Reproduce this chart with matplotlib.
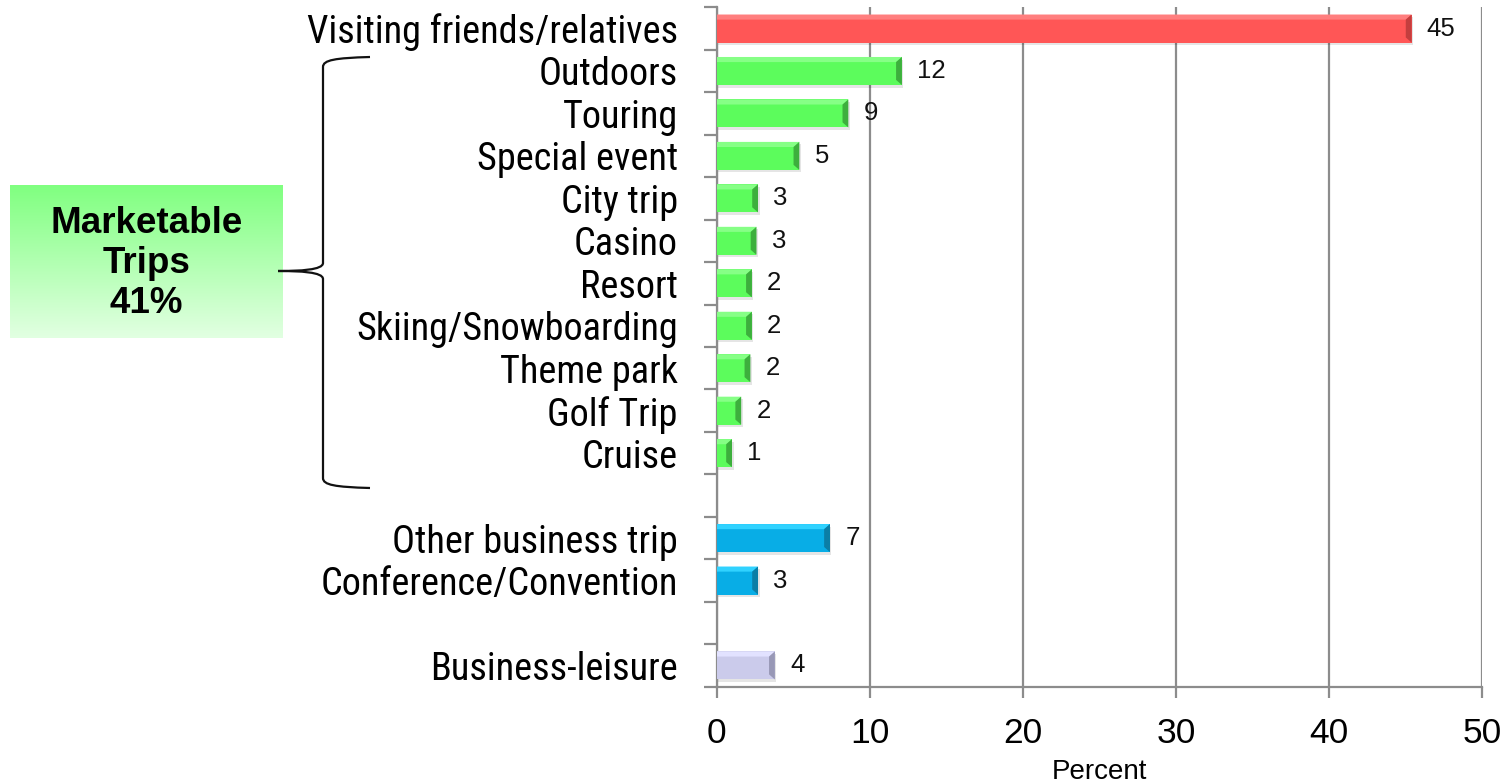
import numpy as np
import matplotlib.pyplot as plt
from matplotlib.patches import Polygon, Rectangle, PathPatch
from matplotlib.path import Path
from matplotlib import font_manager

# trip purposes, share of trips (percent)
categories = ["Visiting friends/relatives", "Outdoors", "Touring", "Special event",
              "City trip", "Casino", "Resort", "Skiing/Snowboarding", "Theme park",
              "Golf Trip", "Cruise", "Other business trip", "Conference/Convention",
              "Business-leisure"]
values = [45.4, 12.1, 8.6, 5.4, 2.7, 2.6, 2.3, 2.3, 2.2, 1.6, 1.0, 7.4, 2.7, 3.8]
groups = ["vfr"] + ["marketable"] * 10 + ["business"] * 2 + ["bleisure"]
x_ticks = [0, 10, 20, 30, 40, 50]
marketable_label = "Marketable\nTrips\n41%"

# row slots, leaving a blank row between the groups
row_pos = list(range(11)) + [12, 13, 15]
n_slots = 16

# (face, top highlight, end cap)
palette = {
    "vfr": ("#FF5656", "#FF7E7E", "#C43E3E"),
    "marketable": ("#5CFC5C", "#86FF86", "#3DAF3D"),
    "business": ("#08ADE6", "#30D2FF", "#0B7EA6"),
    "bleisure": ("#CBCBEB", "#E2E2FF", "#9898B6"),
}

# condensed face for the category names if one is around
installed = {f.name for f in font_manager.fontManager.ttflist}
narrow = [n for n in ["Liberation Sans Narrow", "Roboto Condensed", "DejaVu Sans Condensed",
                      "Open Sans Condensed", "Noto Sans Condensed"] if n in installed]

W, H = 1507, 783
fig = plt.figure(figsize=(W / 100, H / 100), dpi=100)

ax_left, ax_right, ax_top, ax_bottom = 716.7, 1482, 7.3, 686.7
ax = fig.add_axes([ax_left / W, 1 - ax_bottom / H,
                   (ax_right - ax_left) / W, (ax_bottom - ax_top) / H])
ax.set_xlim(0, 50)
ax.set_ylim(n_slots - 0.5, -0.5)

bar_h = 0.66
cap_w = 0.38      # end bevel width, data units
inset = 0.12      # bevel depth, slot units

for y, v, g in zip(row_pos, values, groups):
    face, light, dark = palette[g]
    top, bot = y - bar_h / 2, y + bar_h / 2
    # soft drop shadow
    ax.add_patch(Rectangle((0.05, top + 0.06), v + 0.05, bar_h, color="#000000",
                           alpha=0.10, lw=0, zorder=2))
    ax.barh(y, v, height=bar_h, color=face, lw=0, zorder=3)
    ax.add_patch(Polygon([(0, top), (v, top), (v - cap_w, top + inset), (0, top + inset)],
                         closed=True, color=light, lw=0, zorder=4))
    ax.add_patch(Polygon([(v - cap_w, top + inset), (v, top), (v, bot), (v - cap_w, bot - inset)],
                         closed=True, color=dark, lw=0, zorder=4))
    ax.annotate(f"{v:.0f}", xy=(v, y), xytext=(11, 0), textcoords="offset points",
                va="center", ha="left", fontsize=18.5, family="Liberation Sans",
                color="#111111", zorder=5)

# axes styling
grid_c = "#8C8C8C"
ax.set_xticks(x_ticks)
ax.set_xticklabels([str(t) for t in x_ticks], fontsize=25.5, family="Liberation Sans")
ax.xaxis.grid(True, color=grid_c, lw=1.6, zorder=0)
ax.set_axisbelow(True)
ax.tick_params(axis="x", length=8, width=1.6, color=grid_c, pad=14)

ax.set_yticks(row_pos)
if narrow:
    ax.set_yticklabels(categories, fontsize=27.5, family=[narrow[0], "Liberation Sans"])
else:
    ax.set_yticklabels(categories, fontsize=25, family="Liberation Sans")
ax.set_yticks(np.arange(-0.5, n_slots, 1.0), minor=True)
ax.tick_params(axis="y", which="major", length=0, pad=28)
ax.tick_params(axis="y", which="minor", length=9.5, width=1.6, color=grid_c)

for side in ["top", "right"]:
    ax.spines[side].set_visible(False)
for side in ["left", "bottom"]:
    ax.spines[side].set_color(grid_c)
    ax.spines[side].set_linewidth(1.6)

ax.set_xlabel("Percent", fontsize=20, family="Liberation Sans", labelpad=6)

# overlay in pixel coordinates for the group box and brace
ov = fig.add_axes([0, 0, 1, 1], zorder=-1)
ov.set_xlim(0, W)
ov.set_ylim(H, 0)
ov.axis("off")

box_x0, box_x1, box_y0, box_y1 = 10, 283, 185, 338
grad = np.linspace(0, 1, 256)[:, None]
top_rgb = np.array([0x80, 0xFF, 0x80]) / 255
bot_rgb = np.array([0xE2, 0xFF, 0xE2]) / 255
img = top_rgb[None, None, :] * (1 - grad[..., None]) + bot_rgb[None, None, :] * grad[..., None]
ov.imshow(img, extent=(box_x0, box_x1, box_y1, box_y0), aspect="auto", zorder=1)
ov.text((box_x0 + box_x1) / 2, (box_y0 + box_y1) / 2 + 2, marketable_label,
        ha="center", va="center", fontsize=26.5, fontweight="bold",
        family="Liberation Sans", linespacing=1.17, zorder=2)

# curly brace spanning the marketable group
bx, tip_x, end_x = 323, 278, 370
y_top, y_mid, y_bot = 57, 271, 488
verts = [(end_x, y_top), (335, y_top + 1), (bx, y_top + 3), (bx, y_top + 10),
         (bx, y_mid - 8),
         (bx, y_mid - 1), (300, y_mid), (tip_x, y_mid),
         (300, y_mid), (bx, y_mid + 1), (bx, y_mid + 8),
         (bx, y_bot - 10),
         (bx, y_bot - 3), (335, y_bot - 1), (end_x, y_bot)]
codes = [Path.MOVETO, Path.CURVE4, Path.CURVE4, Path.CURVE4,
         Path.LINETO,
         Path.CURVE4, Path.CURVE4, Path.CURVE4,
         Path.CURVE4, Path.CURVE4, Path.CURVE4,
         Path.LINETO,
         Path.CURVE4, Path.CURVE4, Path.CURVE4]
ov.add_patch(PathPatch(Path(verts, codes), fill=False, lw=1.6, color="#111111", zorder=2))

fig.savefig("out.png", dpi=100)
